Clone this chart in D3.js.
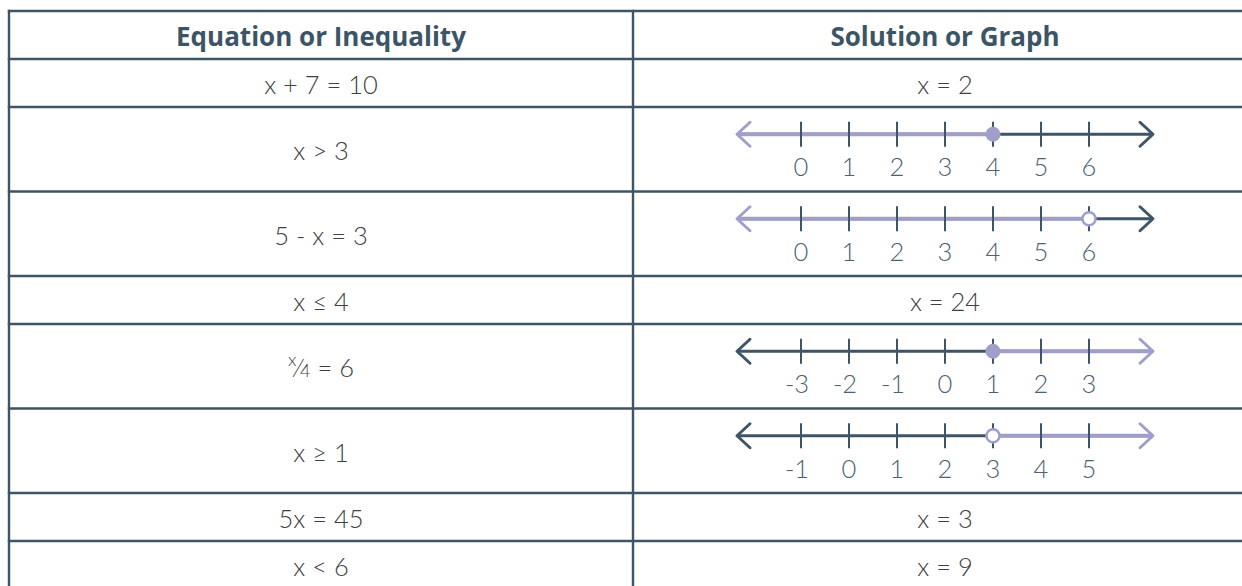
<!DOCTYPE html>
<html>
<head>
<meta charset="utf-8">
<script src="https://cdn.jsdelivr.net/npm/d3@7"></script>
<style>
  html, body { margin: 0; padding: 0; background: #ffffff; }
  svg { display: block; }
</style>
</head>
<body>
<svg id="chart" width="1242" height="586"></svg>
<script>
// ---- data ----
const headers = ["Equation or Inequality", "Solution or Graph"];
const equations = ["x + 7 = 10", "x > 3", "5 - x = 3", "x \u2264 4", "x/4 = 6", "x \u2265 1", "5x = 45", "x < 6"];
const solutions = ["x = 2", null, null, "x = 24", null, null, "x = 3", "x = 9"];
const graphRows = [1, 2, 4, 5];
const graphTicks = [
  [0, 1, 2, 3, 4, 5, 6],
  [0, 1, 2, 3, 4, 5, 6],
  [-3, -2, -1, 0, 1, 2, 3],
  [-1, 0, 1, 2, 3, 4, 5]
];
const graphPoints = [4, 6, 1, 3];
const graphFilled = [true, false, true, false];
const graphShade = ["left", "left", "right", "right"];

// ---- style ----
const DARK = "#3d5566";
const PURPLE = "#a09fcc";
const TEXT = "#404040";
const HEAD = "#3b5566";
const FONT = "Lato, 'Open Sans', sans-serif";
const HFONT = "'Open Sans', Lato, sans-serif";

const svg = d3.select("#chart");

// table geometry
const tLeft = 9, tDivider = 633, tRight = 1257, tTop = 11;
const rowH = [48, 48, 84.5, 84.5, 48, 84.5, 84.5, 48, 48];
const rowY = [];
rowH.reduce((acc, h) => { rowY.push(acc); return acc + h; }, tTop);
const tBottom = rowY[rowY.length - 1] + rowH[rowH.length - 1];
const col1 = (tLeft + tDivider) / 2;
const col2 = (tDivider + tRight) / 2;

// text: header
svg.selectAll("text.head").data(headers).join("text")
  .attr("class", "head")
  .attr("x", (d, i) => i === 0 ? col1 : col2)
  .attr("y", rowY[0] + rowH[0] / 2 + 1)
  .attr("text-anchor", "middle")
  .attr("dominant-baseline", "central")
  .style("font-family", HFONT)
  .style("font-weight", 700)
  .style("font-size", "26px")
  .style("fill", HEAD)
  .text(d => d);

// equations (left column)
const eq = svg.selectAll("text.eq").data(equations).join("text")
  .attr("class", "eq")
  .attr("x", col1)
  .attr("y", (d, i) => rowY[i + 1] + rowH[i + 1] / 2 + 1)
  .attr("text-anchor", "middle")
  .attr("dominant-baseline", "central")
  .style("font-family", FONT)
  .style("font-weight", 300)
  .style("font-size", "25.5px")
  .style("fill", TEXT);

eq.each(function (d) {
  const t = d3.select(this);
  if (d.includes("/")) {
    const [num, rest] = d.split("/");
    const den = rest.split(" ")[0];
    const tail = rest.slice(den.length);
    t.append("tspan").text(num).style("font-size", "18px").attr("dy", -8);
    t.append("tspan").text("\u2044").attr("dy", 8);
    t.append("tspan").text(den).style("font-size", "18px").attr("dy", 3);
    t.append("tspan").text(tail).attr("dy", -3);
  } else {
    t.text(d);
  }
});

// solutions (right column, text)
svg.selectAll("text.sol").data(solutions.map((s, i) => ({ s, i })).filter(d => d.s !== null)).join("text")
  .attr("class", "sol")
  .attr("x", col2)
  .attr("y", d => rowY[d.i + 1] + rowH[d.i + 1] / 2 + 1)
  .attr("text-anchor", "middle")
  .attr("dominant-baseline", "central")
  .style("font-family", FONT)
  .style("font-weight", 300)
  .style("font-size", "25.5px")
  .style("fill", TEXT)
  .text(d => d.s);

// number lines
graphRows.forEach((r, g) => {
  const ticks = graphTicks[g];
  const ri = r + 1;
  const cy = rowY[ri] + rowH[ri] / 2;
  const ly = cy - 15;
  const x = d3.scaleLinear().domain([ticks[0], ticks[ticks.length - 1]]).range([801, 1089]);
  const step = ticks[1] - ticks[0];
  const xl = x(ticks[0] - step * 4 / 3);
  const xr = x(ticks[ticks.length - 1] + step * 4 / 3);
  const px = x(graphPoints[g]);
  const grp = svg.append("g");
  const shadeLeft = graphShade[g] === "left";

  grp.append("line").attr("x1", xl).attr("x2", xr).attr("y1", ly).attr("y2", ly)
    .attr("stroke", DARK).attr("stroke-width", 3);
  grp.append("line")
    .attr("x1", shadeLeft ? xl + 1 : px).attr("x2", shadeLeft ? px : xr - 1)
    .attr("y1", ly).attr("y2", ly)
    .attr("stroke", PURPLE).attr("stroke-width", 4);
  grp.selectAll("line.tick").data(ticks).join("line")
    .attr("class", "tick")
    .attr("x1", d => x(d)).attr("x2", d => x(d))
    .attr("y1", ly - 12.5).attr("y2", ly + 12.5)
    .attr("stroke", DARK).attr("stroke-width", 2);
  grp.selectAll("text.tl").data(ticks).join("text")
    .attr("class", "tl")
    .attr("x", d => x(d) - (d < 0 ? 4 : 0))
    .attr("y", ly + 32)
    .attr("text-anchor", "middle")
    .attr("dominant-baseline", "central")
    .style("font-family", FONT)
    .style("font-weight", 300)
    .style("font-size", "25.5px")
    .style("fill", "#4a6272")
    .text(d => d < 0 ? "-" + Math.abs(d) : String(d));
  const ah = 13, av = 12;
  grp.append("path")
    .attr("d", `M${xl + ah},${ly - av}L${xl},${ly}L${xl + ah},${ly + av}`)
    .attr("fill", "none").attr("stroke", shadeLeft ? PURPLE : DARK)
    .attr("stroke-width", 3).attr("stroke-linecap", "round").attr("stroke-linejoin", "round");
  grp.append("path")
    .attr("d", `M${xr - ah},${ly - av}L${xr},${ly}L${xr - ah},${ly + av}`)
    .attr("fill", "none").attr("stroke", shadeLeft ? DARK : PURPLE)
    .attr("stroke-width", 3).attr("stroke-linecap", "round").attr("stroke-linejoin", "round");
  if (graphFilled[g]) {
    grp.append("circle").attr("cx", px).attr("cy", ly).attr("r", 7.5).attr("fill", PURPLE);
  } else {
    grp.append("circle").attr("cx", px).attr("cy", ly).attr("r", 6.5)
      .attr("fill", "#ffffff").attr("stroke", PURPLE).attr("stroke-width", 2.5);
  }
});

// grid lines
const hLines = rowY.concat([tBottom]);
svg.selectAll("line.h").data(hLines).join("line")
  .attr("class", "h")
  .attr("x1", tLeft - 1.2).attr("x2", tRight)
  .attr("y1", d => d).attr("y2", d => d)
  .attr("stroke", DARK).attr("stroke-width", 2.4);
svg.selectAll("line.v").data([tLeft, tDivider]).join("line")
  .attr("class", "v")
  .attr("x1", d => d).attr("x2", d => d)
  .attr("y1", tTop - 1.2).attr("y2", tBottom)
  .attr("stroke", DARK).attr("stroke-width", 2.4);
</script>
</body>
</html>
